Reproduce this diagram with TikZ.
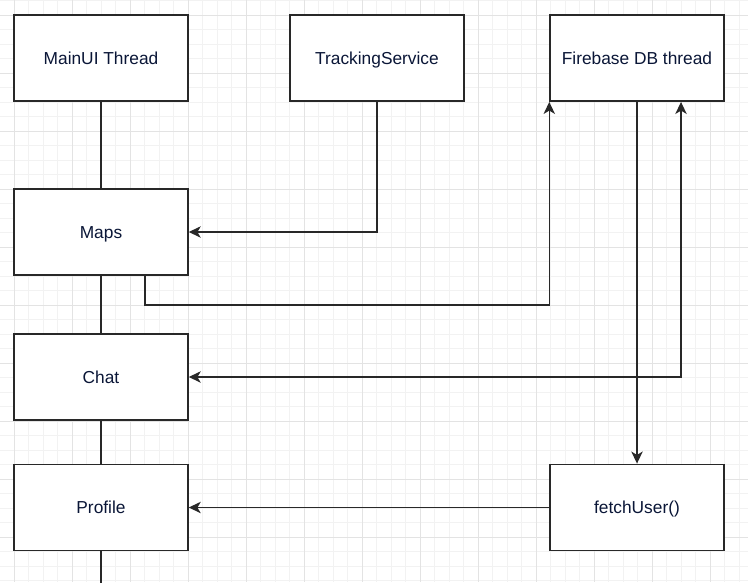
\documentclass[tikz,border=0pt]{standalone}
\usepackage{fontspec}
\setmainfont{Liberation Sans}
\usetikzlibrary{arrows.meta,calc}
\definecolor{txt}{RGB}{10,22,55}
\definecolor{boxline}{RGB}{40,40,40}
\begin{document}
\begin{tikzpicture}[x=0.75pt,y=-0.75pt,
  minorgrid/.style={draw=black!5,line width=0.5pt},
  majorgrid/.style={draw=black!11,line width=0.75pt},
  blk/.style={draw=boxline,fill=white,line width=1.1pt,minimum width=130.5pt,minimum height=64.8pt,inner sep=0pt,
    text height=9.3pt,text depth=0pt,text=txt,font=\fontsize{13}{15}\selectfont},
  conn/.style={draw=boxline,line width=1.1pt},
  arr/.style={conn,-{Stealth[length=9pt,width=8.5pt,inset=2.5pt]}},
  arrb/.style={conn,{Stealth[length=9pt,width=8.5pt,inset=2.5pt]}-{Stealth[length=9pt,width=8.5pt,inset=2.5pt]}}
]
\useasboundingbox (0,0) rectangle (748,582);
\fill[white] (0,0) rectangle (748,582);
% grid
\foreach \i in {-1,...,50} \draw[minorgrid] ({14+14.5*\i},0) -- ({14+14.5*\i},582);
\foreach \j in {-1,...,39} \draw[minorgrid] (0,{15+14.5*\j}) -- (748,{15+14.5*\j});
\foreach \i in {0,...,12} \draw[majorgrid] ({14+58*\i},0) -- ({14+58*\i},582);
\foreach \j in {0,...,9} \draw[majorgrid] (0,{15+58*\j}) -- (748,{15+58*\j});

% nodes
\node[blk] (main) at (101,58) {MainUI Thread};
\node[blk] (track) at (377,58) {TrackingService};
\node[blk] (fire) at (637,58) {Firebase DB thread};
\node[blk] (maps) at (101,232) {Maps};
\node[blk] (chat) at (101,377) {Chat};
\node[blk] (prof) at (101,507.5) {Profile};
\node[blk] (fetch) at (637,507.5) {fetchUser()};
\coordinate (pend) at (101,590);

% lifeline
\draw[conn] (main) -- (maps);
\draw[conn] (maps) -- (chat);
\draw[conn] (chat) -- (prof);
\draw[conn] (prof) -- (pend);

% connectors
\draw[arr] (track.south) |- (maps.east);
\draw[arr] ($(maps.south)+(44,0)$) -- ++(0,29) -| (fire.south west);
\draw[arr] (fire.south) -- (fetch.north);
\draw[arrb] (chat.east) -| ($(fire.south)+(44,0)$);
\draw[arr] (fetch.west) -- (prof.east);
\end{tikzpicture}
\end{document}
